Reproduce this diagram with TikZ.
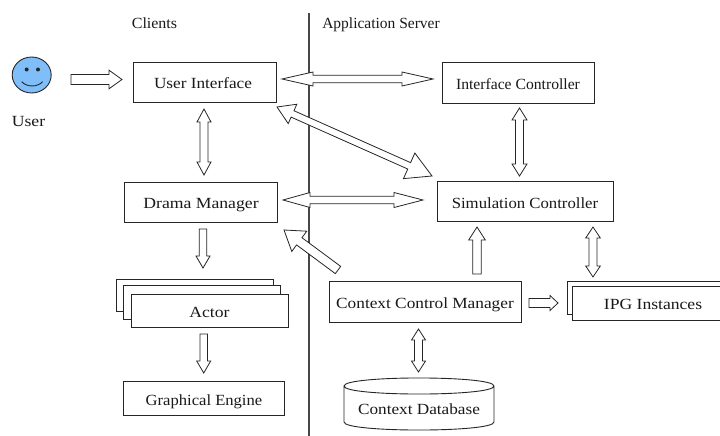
\documentclass[tikz,border=0pt]{standalone}
\usepackage{fontspec}
\setmainfont{Liberation Serif}
\usetikzlibrary{calc,shapes.geometric}
\colorlet{ink}{black!85}
\definecolor{smile}{RGB}{128,190,250}
\tikzset{
  x=1pt,y=-1pt,
  every node/.style={font=\fontsize{15.5}{18}\selectfont,text=black!90,text height=14pt,text depth=1pt},
  fs/.style={font=\fontsize{15.5}{18}\selectfont\addfontfeature{FakeStretch=#1}},
  boxn/.style={draw=ink,line width=.9pt,fill=white,inner sep=0pt,outer sep=0pt,anchor=center},
  lbl/.style={inner sep=0pt},
  % one head: shaft half width / head half width / head length
  sgl/.style n args={3}{draw=ink,line width=.8pt,fill=white,line join=miter,
    to path={
      -- ($(\tikztostart)!#1pt!90:(\tikztotarget)$)
      -- ($(\tikztotarget)!#3pt!(\tikztostart)!#1pt!90:(\tikztotarget)$)
      -- ($(\tikztotarget)!#3pt!(\tikztostart)!#2pt!90:(\tikztotarget)$)
      -- (\tikztotarget)
      -- ($(\tikztotarget)!#3pt!(\tikztostart)!#2pt!-90:(\tikztotarget)$)
      -- ($(\tikztotarget)!#3pt!(\tikztostart)!#1pt!-90:(\tikztotarget)$)
      -- ($(\tikztostart)!#1pt!-90:(\tikztotarget)$)
      -- cycle}},
  % two heads: shaft half / start head half / start head length / end head half / end head length
  dbl/.style n args={5}{draw=ink,line width=.8pt,fill=white,line join=miter,
    to path={
      -- ($(\tikztostart)!#3pt!(\tikztotarget)!#2pt!90:(\tikztotarget)$)
      -- ($(\tikztostart)!#3pt!(\tikztotarget)!#1pt!90:(\tikztotarget)$)
      -- ($(\tikztotarget)!#5pt!(\tikztostart)!#1pt!90:(\tikztotarget)$)
      -- ($(\tikztotarget)!#5pt!(\tikztostart)!#4pt!90:(\tikztotarget)$)
      -- (\tikztotarget)
      -- ($(\tikztotarget)!#5pt!(\tikztostart)!#4pt!-90:(\tikztotarget)$)
      -- ($(\tikztotarget)!#5pt!(\tikztostart)!#1pt!-90:(\tikztotarget)$)
      -- ($(\tikztostart)!#3pt!(\tikztotarget)!#1pt!-90:(\tikztotarget)$)
      -- ($(\tikztostart)!#3pt!(\tikztotarget)!#2pt!-90:(\tikztotarget)$)
      -- cycle}},
}
\begin{document}
\begin{tikzpicture}
\useasboundingbox (0,0) rectangle (720,436);
\fill[white] (0,0) rectangle (720,436);
% divider
\coordinate (divT) at (309,13);
\coordinate (divB) at (309,436);
\draw[ink!85,line width=2.6pt] (divT) -- (divB);
\node[lbl,fs=1.03] (clients) at (154.5,21.8) {Clients};
\node[lbl] (appsrv) at (381,22) {Application Server};
% user
\node[draw=ink,line width=.9pt,fill=smile,ellipse,inner sep=0pt,outer sep=0pt,minimum width=39pt,minimum height=36pt] (user) at (31.7,75) {};
\fill[ink] (26.7,69.5) circle (2) (38,69.5) circle (2);
\draw[ink,line width=.9pt] (21.7,81.7) .. controls (27,87.4) and (37.4,87.4) .. (42.7,81.7);
\node[lbl,fs=1.14] (userl) at (28.5,119.5) {User};
% boxes
\node[boxn,minimum width=143pt,minimum height=40.5pt] (ui) at (204.5,82.3) {};
\node[lbl,fs=1.11,xshift=-1.5pt] at (ui.center) {User Interface};
\node[boxn,minimum width=153.5pt,minimum height=40pt] (dm) at (201,202) {};
\node[lbl,fs=1.14] at (dm.center) {Drama Manager};
\node[boxn,fs=1.01,minimum width=152pt,minimum height=41pt] (ic) at (518,82.5) {Interface Controller};
\node[boxn,fs=1.08,minimum width=176pt,minimum height=39.5pt] (sc) at (525,201.5) {Simulation Controller};
\node[boxn,minimum width=157pt,minimum height=32pt] (act3) at (194.5,295) {};
\node[boxn,minimum width=157pt,minimum height=34pt] (act2) at (201.5,302) {};
\node[boxn,fs=1.14,minimum width=157pt,minimum height=33pt] (act1) at (209.5,310.5) {Actor};
\node[boxn,fs=1.07,minimum width=160.5pt,minimum height=33.5pt] (ge) at (204,398.5) {Graphical Engine};
\node[boxn,fs=1.115,minimum width=192pt,minimum height=41pt] (ccm) at (425,301.5) {Context Control Manager};
% IPG stack runs off the right edge
\draw[ink,line width=.9pt] (720,281) -| (567,314) -- (572,314);
\fill[white] (572,286) rectangle (720,320);
\draw[ink,line width=.9pt] (720,286) -| (572,320) -- (720,320);
\node[lbl,fs=1.135] (ipg) at (653,303) {IPG Instances};
% database
\draw[ink,line width=.9pt,fill=white] (344,386) -- (344,422) .. controls (344,432.7) and (494,432.7) .. (494,422) -- (494,386)
  .. controls (494,375.3) and (344,375.3) .. (344,386) .. controls (344,396.7) and (494,396.7) .. (494,386);
\node[lbl,fs=1.11] (dbl) at (419,407.5) {Context Database};
% arrow ends
\coordinate (a1) at (71,79.5);   \coordinate (a2) at (122,79.5);
\coordinate (b1) at (204,109);   \coordinate (b2) at (204,175);
\coordinate (c1) at (282,79);    \coordinate (c2) at (433,79);
\coordinate (d1) at (277,107);   \coordinate (d2) at (432,176);
\coordinate (e1) at (283,200);   \coordinate (e2) at (423,200);
\coordinate (f1) at (519.5,108); \coordinate (f2) at (519.5,176);
\coordinate (g1) at (203,229);   \coordinate (g2) at (203,268);
\coordinate (h1) at (203.7,334); \coordinate (h2) at (203.7,373);
\coordinate (i1) at (338,270);   \coordinate (i2) at (284,230);
\coordinate (j1) at (477,274);   \coordinate (j2) at (477,227);
\coordinate (k1) at (593,227);   \coordinate (k2) at (593,277);
\coordinate (l1) at (529,303);   \coordinate (l2) at (558,303);
\coordinate (m1) at (418.5,329); \coordinate (m2) at (418.5,372);
% block arrows
\draw[sgl={5}{9.3}{13}] (a1) to (a2);
\draw[dbl={4}{7}{13}{7}{13}] (b1) to (b2);
\draw[dbl={3.7}{7}{31}{7}{31}] (c1) to (c2);
\draw[dbl={3.5}{10.6}{17}{14}{25}] (d1) to (d2);
\draw[dbl={3.7}{7.5}{27}{7.5}{29}] (e1) to (e2);
\draw[dbl={4}{7.5}{12}{7.5}{12}] (f1) to (f2);
\draw[sgl={3.8}{7}{12}] (g1) to (g2);
\draw[sgl={3.8}{7}{12}] (h1) to (h2);
\draw[sgl={4.5}{12.6}{19}] (i1) to (i2);
\draw[sgl={4.2}{8.3}{13}] (j1) to (j2);
\draw[dbl={4}{7.3}{11}{7.3}{11}] (k1) to (k2);
\draw[sgl={4.5}{7.5}{8}] (l1) to (l2);
\draw[dbl={4}{7}{11}{7}{11}] (m1) to (m2);
\end{tikzpicture}
\end{document}
